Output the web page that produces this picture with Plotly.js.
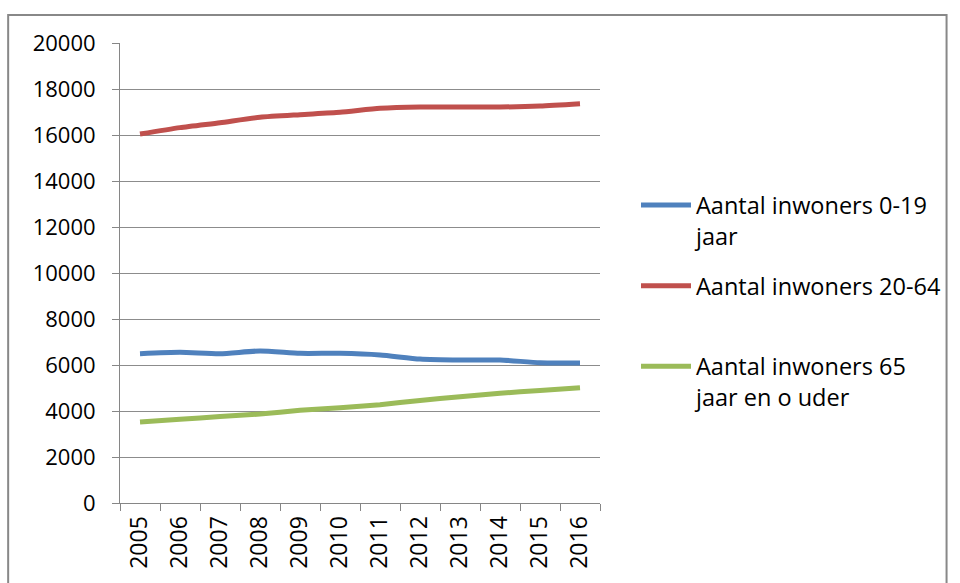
<!DOCTYPE html>
<html>
<head>
<meta charset="utf-8">
<script src="https://cdn.plot.ly/plotly-3.0.1.min.js"></script>
<style>html,body{margin:0;padding:0;background:#fff;}#chart{width:960px;height:583px;}</style>
</head>
<body>
<div id="chart"></div>
<script>
const years = ["2005","2006","2007","2008","2009","2010","2011","2012","2013","2014","2015","2016"];
const age0to19 = [6490, 6550, 6490, 6610, 6507, 6507, 6435, 6260, 6217, 6217, 6100, 6090];
const age20to64 = [16040, 16320, 16535, 16770, 16884, 16985, 17160, 17217, 17217, 17217, 17260, 17360];
const age65plus = [3525, 3640, 3760, 3870, 4030, 4140, 4275, 4460, 4620, 4775, 4890, 5010];
const names = ["Aantal inwoners 0-19<br>jaar", "Aantal inwoners 20-64<br> ", "Aantal inwoners 65<br>jaar en o uder"];
const colors = ["#4F81BD", "#C0504D", "#9BBB59"];

const font = {family: "Open Sans, Noto Sans, sans-serif", size: 22, color: "#000"};
const legFont = {family: "Open Sans, Noto Sans, sans-serif", size: 23.5, color: "#000"};
const xFont = {family: "Open Sans, Noto Sans, sans-serif", size: 23, color: "#000"};
const series = [age0to19, age20to64, age65plus];
const traces = series.map((vals, i) => ({
  type: "scatter", mode: "lines", x: years, y: vals, name: names[i],
  legendgroup: "g" + i,
  line: {color: colors[i], width: 5, shape: "spline", smoothing: 0.6}
}));

const layout = {
  width: 960, height: 583,
  margin: {l: 120, r: 360, t: 43, b: 80},
  paper_bgcolor: "#fff", plot_bgcolor: "#fff",
  font: font,
  showlegend: true,
  legend: {x: 1.075, y: 0.695, xanchor: "left", yanchor: "top", valign: "top",
           font: legFont, tracegroupgap: 16.5, bgcolor: "rgba(0,0,0,0)", itemwidth: 50},
  xaxis: {type: "category", range: [-0.5, 11.5], showgrid: false, showline: true, linecolor: "#868686", linewidth: 1,
          ticks: "outside", tickson: "boundaries", ticklen: 7, tickcolor: "#868686",
          tickangle: -90, tickfont: xFont, zeroline: false, fixedrange: true, ticklabelstandoff: 3},
  yaxis: {range: [0, 20000], dtick: 2000, tick0: 0, tickformat: "d", showgrid: true, gridcolor: "#8c8c8c", gridwidth: 1,
          showline: true, linecolor: "#868686", linewidth: 1, ticks: "outside", ticklen: 7,
          tickcolor: "#868686", tickfont: font, zeroline: false, ticklabelstandoff: 12, fixedrange: true},
  shapes: [
    {type: "rect", xref: "paper", yref: "paper", x0: -0.233, x1: 1.722, y0: -0.3, y1: 1.061,
     line: {color: "#888", width: 2}, fillcolor: "rgba(0,0,0,0)", layer: "below"}
  ]
};
Plotly.newPlot("chart", traces, layout, {displayModeBar: false, staticPlot: true});
</script>
</body>
</html>
